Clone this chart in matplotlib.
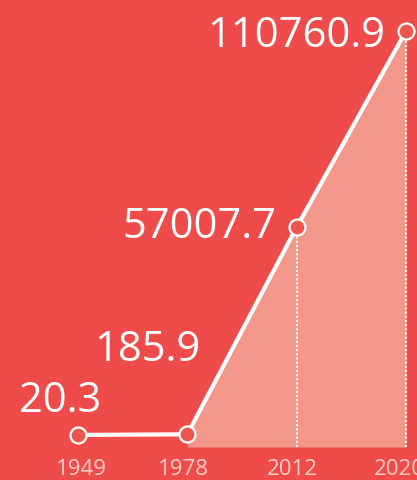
#
# GDP growth line chart, red poster style
#
import matplotlib
matplotlib.use('Agg')
import matplotlib.pyplot as plt

years = ["1949", "1978", "2012", "2020"]
values = [20.3, 185.9, 57007.7, 110760.9]
labels = ["20.3", "185.9", "57007.7", "110760.9"]

BG = "#EE4B4A"
FILL = "#F3978A"
DOT = "#E9574E"
TICK = "#F8CFC6"

W, H = 417, 481
# pixel geometry of the original
PX_PER_VAL = 274.25
ZERO_PX = 436

fig = plt.figure(figsize=(W / 100, H / 100), dpi=100, facecolor=BG)
ax = fig.add_axes([0, 0, 1, 1])
ax.set_facecolor(BG)
ax.set_axis_off()

xs = list(range(len(years)))
ax.set_xlim(-78 / 109.33, 3 + 11 / 109.33)
ax.set_ylim(-(H - ZERO_PX) * PX_PER_VAL, ZERO_PX * PX_PER_VAL)

base = -12 * PX_PER_VAL
ax.fill_between(xs[1:], values[1:], base, color=FILL, lw=0, zorder=1)
ax.vlines(xs[2:], base, values[2:], colors="white", linestyles=(0, (1, 1)),
          lw=1.5, zorder=2)
ax.plot(xs, values, "-", color="white", lw=3, zorder=3, solid_capstyle="round")
ax.plot(xs, values, "o", ms=11.5, mfc=DOT, mec="white", mew=1.6, zorder=4)

# value labels: (dx, dy) offsets of baseline in pixels
offsets = [(-18, 24), (-40, 74), (-20, -10), (-21, -15)]
aligns = ["center", "center", "right", "right"]
for x, v, lab, (dx, dy), ha in zip(xs, values, labels, offsets, aligns):
    ax.annotate(lab, (x, v), xytext=(dx, dy), textcoords="offset pixels",
                ha=ha, va="baseline", color="white", fontsize=30,
                family=["Open Sans", "DejaVu Sans"], zorder=5)

# year labels sit slightly off their points in the original
tick_dx = [3, -4, -4, -7]
for x, y, dx in zip(xs, years, tick_dx):
    ax.annotate(y, (x, 6 / H), xycoords=ax.get_xaxis_transform(),
                xytext=(dx, 0), textcoords="offset pixels", ha="center",
                va="baseline", color=TICK, fontsize=16,
                family=["Open Sans", "DejaVu Sans"])

fig.savefig("out.png", dpi=100, facecolor=BG)
plt.close()
